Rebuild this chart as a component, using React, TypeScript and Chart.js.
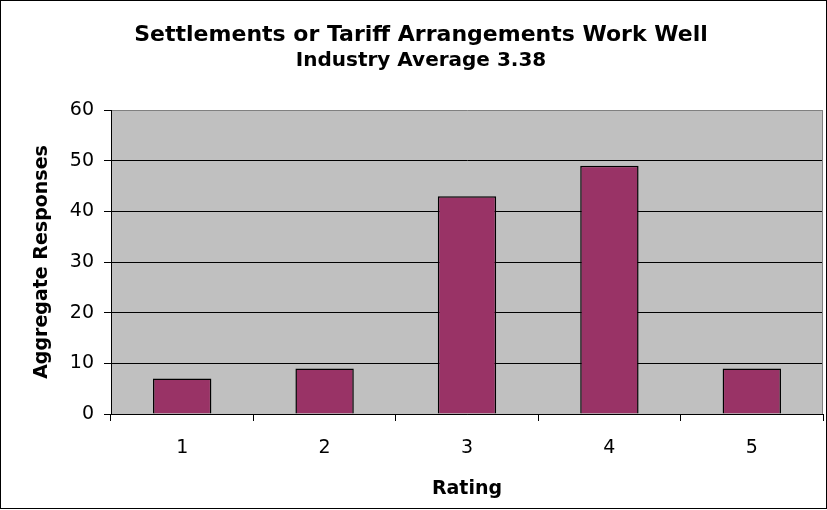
import React, { useEffect, useRef } from "react";
import { Chart, registerables } from "chart.js";

Chart.register(...registerables);

const categories = ["1", "2", "3", "4", "5"];
const responses = [7, 9, 43, 49, 9];
const titleText = "Settlements or Tariff Arrangements Work Well";
const subtitleText = "Industry Average 3.38";
const xTitle = "Rating";
const yTitle = "Aggregate Responses";

const FONT = "'DejaVu Sans', 'Liberation Sans', Arial, sans-serif";

const framePlugin = {
  id: "frame",
  beforeDraw(chart: any) {
    const { ctx, chartArea } = chart;
    ctx.save();
    ctx.fillStyle = "#ffffff";
    ctx.fillRect(0, 0, chart.width, chart.height);
    ctx.fillStyle = "#c0c0c0";
    ctx.fillRect(chartArea.left, chartArea.top, chartArea.right - chartArea.left, chartArea.bottom - chartArea.top);
    ctx.restore();
  },
  afterDraw(chart: any) {
    const { ctx, chartArea } = chart;
    ctx.save();
    ctx.strokeStyle = "#808080";
    ctx.lineWidth = 1;
    ctx.beginPath();
    ctx.moveTo(Math.round(chartArea.right) - 0.5, chartArea.top);
    ctx.lineTo(Math.round(chartArea.right) - 0.5, chartArea.bottom);
    ctx.stroke();
    ctx.strokeStyle = "#000000";
    ctx.strokeRect(0.5, 0.5, chart.width - 1, chart.height - 2);
    ctx.restore();
  },
};

export default function App() {
  const ref = useRef<HTMLCanvasElement | null>(null);
  useEffect(() => {
    if (!ref.current) return;
    const chart = new Chart(ref.current, {
      type: "bar",
      data: {
        labels: categories,
        datasets: [
          {
            data: responses,
            backgroundColor: "#993366",
            borderColor: "#000000",
            borderWidth: 1.5,
            categoryPercentage: 1,
            barPercentage: 0.41,
          },
        ],
      },
      options: {
        animation: false,
        responsive: false,
        layout: { padding: { left: 19, right: 4, top: 0, bottom: 0 } },
        plugins: {
          legend: { display: false },
          tooltip: { enabled: false },
          title: {
            display: true,
            text: titleText,
            color: "#000",
            font: { family: FONT, size: 22, weight: "bold" },
            padding: { top: 22, bottom: 0 },
          },
          subtitle: {
            display: true,
            text: subtitleText,
            color: "#000",
            font: { family: FONT, size: 20, weight: "bold" },
            padding: { top: 0, bottom: 37.6 },
          },
        },
        scales: {
          x: {
            offset: true,
            grid: {
              offset: true,
              drawOnChartArea: false,
              drawTicks: true,
              tickLength: 7,
              color: "#000",
            },
            border: { color: "#000", width: 1 },
            ticks: {
              color: "#000",
              font: { family: FONT, size: 19 },
              padding: 16,
            },
            title: {
              display: true,
              text: xTitle,
              color: "#000",
              font: { family: FONT, size: 19, weight: "bold" },
              padding: { top: 0, bottom: 9.6 },
            },
            afterFit(scale: any) {
              scale.height = 96;
            },
          },
          y: {
            min: 0,
            max: 60,
            ticks: {
              stepSize: 10,
              color: "#000",
              font: { family: FONT, size: 19 },
              padding: 10,
            },
            grid: {
              color: (ctx: any) => (ctx.tick && ctx.tick.value === 60 ? "#808080" : "#000"),
              tickColor: "#000",
              tickLength: 7,
              lineWidth: 1,
            },
            border: { color: "#000", width: 1 },
            title: {
              display: true,
              text: yTitle,
              color: "#000",
              font: { family: FONT, size: 19, weight: "bold" },
              padding: { top: 12, bottom: 0 },
            },
            afterFit(scale: any) {
              scale.width = 92;
            },
          },
        },
      },
      plugins: [framePlugin],
    });
    return () => chart.destroy();
  }, []);
  return (
    <div style={{ position: "absolute", left: 0, top: 0, width: 827, height: 510 }}>
      <canvas ref={ref} width={827} height={510} style={{ display: "block" }} />
    </div>
  );
}
